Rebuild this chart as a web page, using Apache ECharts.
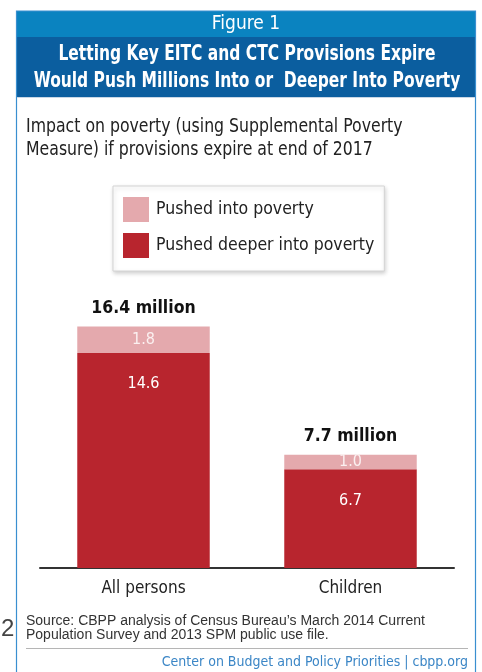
<!DOCTYPE html>
<html>
<head>
<meta charset="utf-8">
<script src="https://cdn.jsdelivr.net/npm/echarts@6/dist/echarts.min.js"></script>
<style>
html,body{margin:0;padding:0;background:#fff;}
#chart{width:482px;height:672px;}
</style>
</head>
<body>
<div id="chart"></div>
<script>
var categories = ['All persons', 'Children'];
var pushedDeeper = [14.6, 6.7];
var pushedInto = [1.8, 1.0];
var totals = [16.4, 7.7];
var seriesNames = ['Pushed into poverty', 'Pushed deeper into poverty'];

var COND = "'Liberation Sans Narrow','DejaVu Sans Condensed','Roboto Condensed','Open Sans Condensed',sans-serif";
var DARK = '#b8252e', LIGHT = '#e4a9ad';

var chart = echarts.init(document.getElementById('chart'), null, {renderer: 'canvas'});
chart.setOption({
  animation: false,
  backgroundColor: '#fff',
  grid: {left: 40, right: 28, top: 303, bottom: 104},
  legend: {
    data: seriesNames,
    orient: 'vertical',
    left: 113, top: 186,
    padding: [11, 10, 13, 10],
    itemGap: 11,
    itemWidth: 26, itemHeight: 25,
    icon: 'rect',
    backgroundColor: '#fff',
    borderColor: '#d4d4d4', borderWidth: 1,
    shadowBlur: 4, shadowColor: 'rgba(0,0,0,0.18)', shadowOffsetX: 1, shadowOffsetY: 2,
    textStyle: {fontFamily: COND, fontSize: 17.5, color: '#222', padding: [0, 0, 0, 2]}
  },
  xAxis: {
    type: 'category', data: categories,
    axisLine: {lineStyle: {color: '#333', width: 2}},
    axisTick: {show: false},
    axisLabel: {fontFamily: COND, fontSize: 17, color: '#222', margin: 12}
  },
  yAxis: {type: 'value', min: 0, max: 18, show: false, splitLine: {show: false}},
  series: [
    {
      name: seriesNames[1], type: 'bar', stack: 's', data: pushedDeeper,
      barCategoryGap: '36%',
      itemStyle: {color: DARK},
      label: {show: true, position: 'insideTop', distance: 23, color: '#fff', fontFamily: COND, fontSize: 16}
    },
    {
      name: seriesNames[0], type: 'bar', stack: 's', data: pushedInto,
      itemStyle: {color: LIGHT},
      label: {show: true, position: 'inside', color: '#fbf0f0', fontFamily: COND, fontSize: 16,
        formatter: function(p){ return p.value.toFixed(1); }}
    },
    {
      name: 'total', type: 'bar', stack: 's', data: totals.map(function(){ return 0; }),
      itemStyle: {color: 'transparent'},
      label: {show: true, position: 'top', distance: 9, color: '#111', fontFamily: COND, fontSize: 17.5, fontWeight: 'bold',
        formatter: function(p){ return totals[p.dataIndex].toFixed(1) + ' million'; }}
    }
  ],
  graphic: [
    {type: 'rect', shape: {x: 16, y: 11, width: 460, height: 26}, style: {fill: '#0a83c0'}},
    {type: 'rect', shape: {x: 16, y: 37, width: 460, height: 60}, style: {fill: '#0b5e9f'}},
    {type: 'rect', shape: {x: 16.5, y: 11, width: 459, height: 700}, style: {fill: 'none', stroke: '#3a8fd0', lineWidth: 1.2}},
    {type: 'line', shape: {x1: 17, y1: 97.5, x2: 475, y2: 97.5}, style: {stroke: '#c9d7e6', lineWidth: 1}},
    {type: 'text', x: 246, y: 24, style: {text: 'Figure 1', fill: '#fff', font: '19px ' + COND, align: 'center', verticalAlign: 'middle'}},
    {type: 'text', x: 247, y: 55, scaleX: 0.82, style: {text: 'Letting Key EITC and CTC Provisions Expire', fill: '#fff', font: 'bold 21px ' + COND, align: 'center', verticalAlign: 'middle'}},
    {type: 'text', x: 247, y: 82, scaleX: 0.82, style: {text: 'Would Push Millions Into or  Deeper Into Poverty', fill: '#fff', font: 'bold 21px ' + COND, align: 'center', verticalAlign: 'middle'}},
    {type: 'text', x: 26, y: 127, scaleX: 0.92, style: {text: 'Impact on poverty (using Supplemental Poverty', fill: '#222', font: '19px ' + COND, verticalAlign: 'middle'}},
    {type: 'text', x: 26, y: 150, scaleX: 0.92, style: {text: 'Measure) if provisions expire at end of 2017', fill: '#222', font: '19px ' + COND, verticalAlign: 'middle'}},
    {type: 'text', x: 26, y: 621, style: {text: 'Source: CBPP analysis of Census Bureau\u2019s March 2014 Current', fill: '#333', font: '14px "Liberation Sans", Arial, sans-serif', verticalAlign: 'middle'}},
    {type: 'text', x: 26, y: 635, style: {text: 'Population Survey and 2013 SPM public use file.', fill: '#333', font: '14px "Liberation Sans", Arial, sans-serif', verticalAlign: 'middle'}},
    {type: 'text', x: 1, y: 629, style: {text: '2', fill: '#444', font: '24px "Liberation Sans", Arial, sans-serif', verticalAlign: 'middle'}},
    {type: 'line', shape: {x1: 26, y1: 648.5, x2: 468, y2: 648.5}, style: {stroke: '#b5b5b5', lineWidth: 1}},
    {type: 'text', x: 468, y: 662, style: {text: 'Center on Budget and Policy Priorities | cbpp.org', fill: '#3b86c6', font: '14px ' + COND, align: 'right', verticalAlign: 'middle'}}
  ]
});
</script>
</body>
</html>
